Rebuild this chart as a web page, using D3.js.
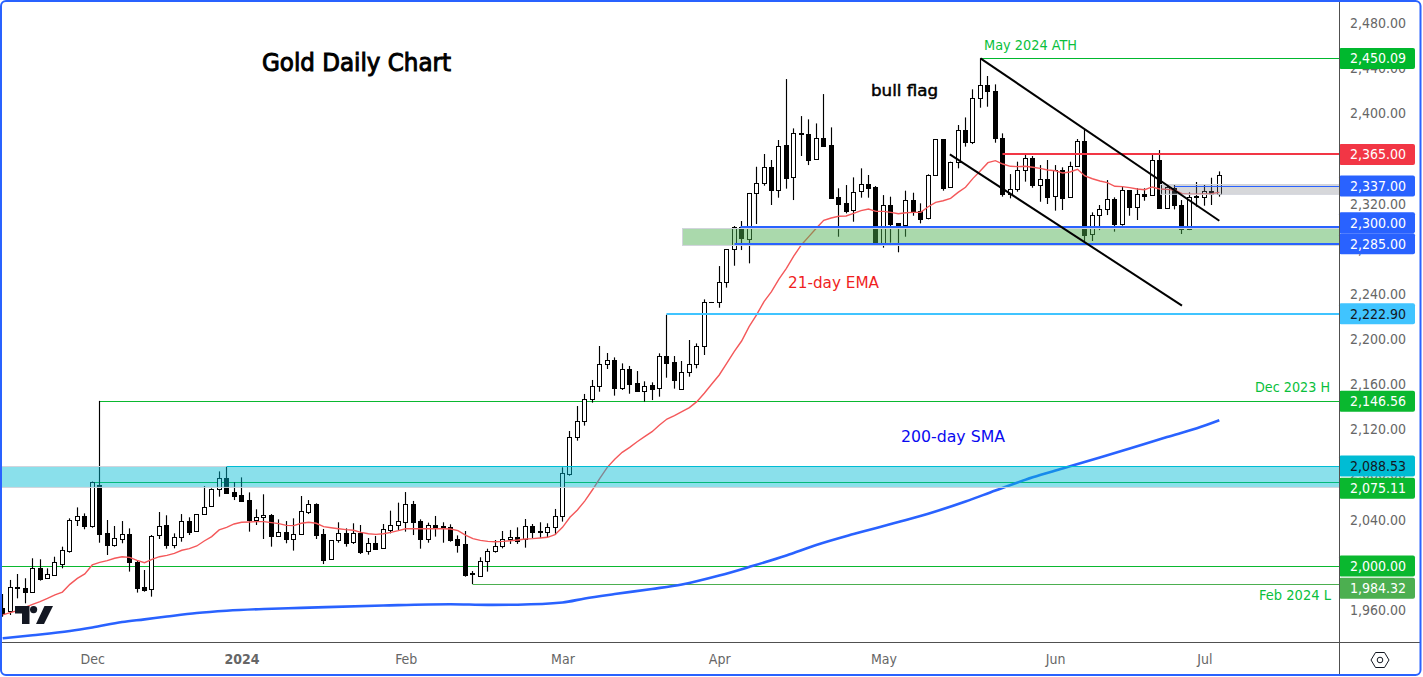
<!DOCTYPE html>
<html>
<head>
<meta charset="utf-8">
<title>Gold Daily Chart</title>
<script src="https://cdn.jsdelivr.net/npm/d3@7"></script>
<style>
html,body{margin:0;padding:0;background:#fff;overflow:hidden}
svg{display:block}
text{font-family:"DejaVu Sans",sans-serif;font-stretch:condensed}
</style>
</head>
<body>
<svg id="c" width="1423" height="677"></svg>
<script>
// ---------- data ----------
const opens = [1962.8,1960.7,1981.4,1980.5,1977.5,1998.2,1989.4,1992.6,2002,2013.9,2040.7,2044.3,2036,2072,2029.2,2019.2,2024.5,2028.3,2004.1,1981.4,1979.6,2027.4,2036.3,2019.2,2026.3,2039.9,2030.9,2046,2053.1,2068.2,2077.9,2065.5,2062.9,2058.5,2041.3,2043.4,2045.2,2027.1,2030.1,2023.9,2028.3,2048.4,2054.9,2028.3,2006.2,2023,2029.5,2021.2,2029.2,2013.3,2020.4,2015.9,2032.5,2036.3,2039.6,2054.9,2039.9,2024.5,2036.3,2035.7,2034.5,2023.9,2019.5,1993.8,1991.4,2004.4,2013.3,2017.7,2023.9,2025.7,2023.9,2035.4,2031,2030.1,2034.5,2044.3,2081.8,2114.3,2128.4,2147.9,2159.4,2178.9,2182.5,2158.3,2174.8,2162.1,2155.6,2160.3,2157.7,2186,2180.7,2156.8,2171.8,2178.9,2194.9,2233.9,2233.9,2251.6,2280.8,2300.3,2290.3,2330.4,2339.3,2353.5,2333.7,2372.9,2344.6,2383.3,2382.7,2360.5,2379.1,2372.9,2326.9,2321.6,2315.4,2332.2,2338.4,2335.7,2286.1,2319.8,2303.8,2302.1,2324.2,2314.5,2308.3,2346.4,2378.3,2335.7,2357.9,2386.2,2376.2,2414.6,2426.1,2420.8,2379.1,2329.5,2334,2350.8,2361.4,2338.1,2342.8,2327.8,2351.1,2326.9,2354.9,2376.8,2294.1,2310.9,2316.8,2325.1,2303.5,2333.1,2318.6,2329.5,2328.7,2359.7,2317.1,2335.4,2319.8,2298.5,2328.1,2326.9,2332.2,2329.8];
const highs = [1975.5,1987.9,1993.2,1989.4,2007.1,2006.2,1998.2,2008.5,2017.4,2042.5,2052.2,2046.9,2075.11,2146.56,2041,2035.7,2040.1,2033.6,2005.6,1996.7,2027.7,2048.1,2045.2,2029.2,2046.3,2043.4,2046.2,2071.1,2069.1,2084.1,2088.53,2074.7,2078.8,2065.5,2050.5,2063.8,2046.3,2041.6,2040.1,2042.5,2062.3,2058.7,2055.8,2033.1,2023.3,2039,2033.6,2038.1,2036.6,2025.1,2026.9,2037.5,2049.3,2056.4,2065.8,2057.9,2041.6,2038.7,2044.6,2039,2037.2,2027.4,2031.3,1995.8,2008,2015.6,2023.3,2031.3,2032.2,2034.5,2041.9,2037.5,2039,2038.1,2050.8,2087.7,2119.9,2142,2152.7,2165.1,2195.2,2189,2185.1,2179.8,2177.5,2173,2163.9,2163,2188.7,2222.9,2186.3,2181.9,2200.5,2197.5,2236.5,2234.2,2266,2281,2301.5,2305.9,2330.8,2354,2365.3,2360,2377.7,2431.7,2388,2398.9,2396,2392.4,2418.4,2388.9,2334.9,2337.8,2344.6,2352.6,2346.7,2336.9,2328.9,2327.5,2304.1,2332.8,2331,2321.6,2347.3,2378.6,2378.6,2358.5,2391,2397.7,2422.6,2450.09,2434.4,2427,2383.6,2347.5,2358.5,2364.4,2363.5,2355.5,2360,2355.5,2353.5,2358.5,2378.6,2387.1,2313.6,2320.1,2342.2,2326.9,2336.9,2333.4,2334.9,2334.9,2364.4,2368.8,2337.8,2337.8,2324.5,2331.3,2340.5,2338.7,2344.3,2349.9];
const lows = [1955.4,1956.9,1971.6,1967.2,1977,1987.3,1989,1992.3,1998.2,2012.1,2035.7,2032.8,2034.2,2020.9,2010,2017.4,2020.4,1995.3,1976.7,1977.5,1973.1,2024.2,2015.6,2015.9,2021.8,2027.7,2030.6,2045.7,2052.8,2061.7,2065,2058.7,2057.3,2030.7,2036.6,2024.2,2017.4,2026.3,2020.4,2013.9,2028,2046.3,2024.2,2002,2006,2020.9,2017.4,2019.8,2010.9,2010.3,2015.4,2015.6,2029.2,2032.2,2030.7,2027.7,2015.6,2020.9,2026.3,2020.9,2021.8,2012.1,1990.8,1984.32,1990.8,1995.3,2012.1,2015.9,2019.8,2019.8,2016.5,2025.1,2025.1,2025.7,2028,2039.6,2080.3,2111.3,2124.6,2145,2154.7,2174.8,2151.2,2156.2,2152.9,2155.3,2145.9,2147.3,2150.3,2167.1,2157.4,2156.5,2168,2175.4,2187.2,2233.6,2229.1,2246.9,2266.3,2280.2,2268.4,2303.3,2337.2,2320.1,2326.6,2334.6,2324.5,2363.5,2355.5,2360.2,2372.4,2326,2292,2312.7,2305.3,2326.6,2326.6,2286.1,2282.3,2286.7,2278.2,2292,2310.6,2303.8,2307.4,2345.8,2332.8,2335.4,2352.6,2371.8,2374.1,2406.3,2407.2,2375.3,2327.5,2326,2331.9,2340.8,2335.4,2323,2321,2315.1,2315.7,2326.5,2354.6,2286.1,2288.2,2297.9,2311.2,2296.5,2301.8,2310.6,2306.8,2323.9,2328.3,2316.8,2316.8,2316.2,2294.4,2297.9,2318.6,2319.5,2320.1,2327.5];
const closes = [1958.3,1981.4,1980.8,1977.5,1998.2,1989.1,1992.9,2003.5,2014.2,2040.7,2044.3,2036,2074.5,2028.9,2019.2,2024.8,2028.3,2004.1,1981.1,1979.3,2027.1,2036,2019.2,2026.3,2039.9,2030.7,2046,2052.8,2068.2,2077.9,2065.2,2062.6,2058.2,2041,2043.4,2045.2,2027.1,2030.1,2023.9,2028.3,2048.7,2054.9,2028,2005.9,2023,2029.2,2020.9,2029.2,2013,2020.4,2015.6,2032.8,2036.3,2039.9,2054.9,2039.6,2024.5,2036.3,2035.1,2035.1,2023.6,2019.2,1992.6,1993.2,2004.4,2013.3,2017.7,2023.9,2025.7,2022.4,2035.4,2030.7,2030.4,2034.5,2044.3,2082.4,2114.3,2128.4,2147.9,2159.4,2178.9,2182.5,2158.3,2174.5,2161.8,2155.6,2160,2157.4,2186,2180.4,2165.4,2171.8,2178.9,2194.9,2233.9,2234,2251.6,2280.8,2300.3,2290.6,2330.4,2339.3,2353.5,2333.7,2372.6,2344.3,2383.6,2383.9,2360.2,2379.1,2372.6,2326.6,2321.3,2315.1,2331.9,2338.4,2335.4,2286.7,2319.8,2303.5,2301.8,2324.2,2314.2,2308,2346.4,2378.3,2335.4,2357.9,2386.2,2376.2,2414.6,2426.1,2420.8,2379.1,2329.5,2334,2350.8,2361.4,2338.1,2342.8,2327.5,2351.1,2326.6,2354.9,2376.5,2293.5,2310.9,2316.8,2325.1,2303.5,2333.1,2318.6,2329.5,2328.4,2359.7,2317.1,2335.7,2319.8,2298.5,2327.5,2326.9,2332.2,2329.8,2346.4];
const ema21 = [1956.9,1958.9,1960.7,1963.7,1966.3,1968.7,1971.6,1974.6,1977.2,1984,1989.3,1993.2,2001.2,2003.5,2005,2007.1,2008.5,2007.9,2005.3,2003.2,2006.2,2008.5,2009.7,2011.5,2014.2,2015.6,2018,2022.4,2026.3,2032.2,2034.5,2037.5,2039,2039.3,2039.6,2039.6,2038.7,2037.8,2036.3,2036,2038.1,2039,2038.1,2035.1,2034.2,2033.3,2032.5,2031.9,2030.1,2028.9,2028.3,2028.9,2030.1,2031.6,2033.3,2033.3,2033.3,2033.3,2033.3,2033.3,2033,2031.6,2027.7,2024.5,2023,2022.1,2021.8,2022.1,2022.7,2023.3,2024.2,2024.5,2025.1,2025.7,2028,2034.5,2043.4,2049.9,2058,2067.6,2078,2087.7,2094.8,2101,2105.4,2110.4,2114.9,2119.3,2125.2,2130.5,2133.5,2137,2140.6,2145.9,2153.3,2161.5,2169.5,2179.8,2190.2,2199.6,2212.3,2222.7,2234.5,2243.3,2254.5,2264,2275,2284.7,2292.1,2299.5,2306.5,2308.6,2310.1,2310.4,2312.7,2315.1,2316.6,2314.5,2314.5,2313.6,2312.4,2313.3,2313.6,2313.6,2318.6,2322.5,2323.9,2326,2331.3,2335.8,2343.7,2350.5,2357.6,2359.4,2356.4,2354.4,2354.1,2354.4,2353.5,2352.6,2351.1,2350.5,2348.5,2349.4,2351.7,2345.8,2343.4,2341.4,2339.9,2336.7,2336.4,2335.5,2334.3,2333.7,2336.1,2334.3,2334,2333.4,2330.2,2329.6,2329.6,2329.9,2330.2,2331.3];
const smaBars = [0,4,9,12,16,19,22,26,30,35,40,51,60,65,69,75,78,82,87,91,96,100,105,109,114,120,124,129,133,138,142,147,151,156,160,163];
const sma200 = [1936.2,1938.9,1942.7,1945.8,1950.6,1953,1955.5,1958.6,1960.6,1962.2,1963.2,1965.3,1966.4,1965.8,1966,1967.9,1971.5,1975.4,1979.9,1983.9,1991.8,1999.4,2009.6,2018.9,2028.6,2039.2,2046.6,2057.4,2067.1,2078.8,2086.6,2096.4,2104.4,2114.6,2122.3,2129.4];

const priceTicks = [1960,2000,2040,2080,2120,2160,2200,2240,2280,2320,2360,2400,2440,2480];
const monthBars = [12,32,54,75,96,118,141,161];
const monthNames = ["Dec","2024","Feb","Mar","Apr","May","Jun","Jul"];

// horizontal levels: price, first bar
const levelPrices = [2450.09,2365,2337,2300,2285,2222.9,2146.56,2088.53,2075.11,2000,1984.32];
const levelStarts = [131,134,157,98.8,98,89,13,30,12,0,63];
const levelText   = ["2,450.09","2,365.00","2,337.00","2,300.00","2,285.00","2,222.90","2,146.56","2,088.53","2,075.11","2,000.00","1,984.32"];

// bull-flag channel lines: bar, price
const channelUpper = [[131,2450.09],[163,2306.2]];
const channelLower = [[126.9,2365],[158,2231]];

// ---------- styles ----------
const levelColors = ["#00b82e","#f23645","#2962ff","#2962ff","#2962ff","#40c4ff","#0ab82f","#00bcd4","#0ab82f","#0ab82f","#4caf50"];
const levelWidths = [1,2,1,2,2,2,1,1,1,1,1];
const levelBadge  = [58.5,154.5,186,222.7,243.7,313.7,401.3,466,488.3,566,588.3];
const levelInk    = ["#fff","#fff","#fff","#fff","#fff","#131722","#fff","#131722","#fff","#fff","#fff"];

const svg = d3.select("#c");
const plotR = 1339, plotB = 642;
const x = d3.scaleLinear().domain([0,163]).range([2.7,1219.3]);
const y = d3.scaleLinear().domain([2000,2450.09]).range([566.3,58.3]);
const px = v => Math.floor(v)+0.5;
const py = v => Math.round(y(v))+0.5;
const levelY = i => levelWidths[i]===1 ? py(levelPrices[i]) : Math.floor(y(levelPrices[i]));

svg.append("defs").append("clipPath").attr("id","plot").append("rect")
  .attr("x",2).attr("y",2).attr("width",plotR-2).attr("height",plotB-2);
const g = svg.append("g").attr("clip-path","url(#plot)");

// levels under candles
const underIdx = [0,6,8,9,10];
const overIdx  = [1,2,3,4,5,7];
function drawLevels(ids){
  g.selectAll(null).data(ids).join("line")
    .attr("x1",i=>levelStarts[i]===0?0:px(x(levelStarts[i])))
    .attr("x2",plotR)
    .attr("y1",levelY).attr("y2",levelY)
    .attr("stroke",i=>levelColors[i]).attr("stroke-width",i=>levelWidths[i]);
}
drawLevels(underIdx);

// candles
const bars = d3.range(opens.length);
const cg = g.append("g");
cg.selectAll("line").data(bars).join("line")
  .attr("x1",i=>px(x(i))).attr("x2",i=>px(x(i)))
  .attr("y1",i=>y(highs[i])).attr("y2",i=>y(lows[i]))
  .attr("stroke","#000").attr("stroke-width",1.15);
cg.selectAll("rect").data(bars).join("rect")
  .attr("x",i=>px(x(i))-2).attr("width",4)
  .attr("y",i=>py(Math.max(opens[i],closes[i])))
  .attr("height",i=>Math.max(0.01,py(Math.min(opens[i],closes[i]))-py(Math.max(opens[i],closes[i]))))
  .attr("fill",i=>closes[i]>opens[i]?"#fff":"#000")
  .attr("stroke","#000").attr("stroke-width",1);

// moving averages
const lineXY = d3.line().x(d=>x(d[0])).y(d=>y(d[1]));
g.append("path").attr("d",lineXY(ema21.map((v,i)=>[i,v])))
  .attr("fill","none").attr("stroke","#f4585a").attr("stroke-width",1.4);
g.append("path").attr("d",d3.line().x(d=>x(d[0])).y(d=>y(d[1])).curve(d3.curveMonotoneX)(smaBars.map((b,i)=>[b,sma200[i]])))
  .attr("fill","none").attr("stroke","#2962ff").attr("stroke-width",2.6);

// zones: [first bar, top price, bottom price, colour]
const zones = [
  [-1,2088.53,2070.0,"rgba(0,188,212,0.46)"],
  [91,2300,2285,"rgba(76,175,80,0.475)"],
  [155,2338.5,2329.8,"rgba(120,123,134,0.3)"]
];
g.selectAll(null).data(zones).join("rect")
  .attr("x",d=>Math.round(x(d[0]))+.5).attr("width",d=>plotR-Math.round(x(d[0])))
  .attr("y",d=>Math.round(y(d[1]))+.5).attr("height",d=>y(d[2])-y(d[1]))
  .attr("fill",d=>d[3]).attr("stroke","#d1d4dc").attr("stroke-width",1);

drawLevels(overIdx);

// channel
[channelUpper,channelLower].forEach(c=>{
  g.append("path").attr("d",lineXY(c)).attr("fill","none")
   .attr("stroke","#000").attr("stroke-width",2);
});

// TradingView mark
const logo = svg.append("g").attr("fill","#131722");
logo.append("path").attr("d","M15 606H29.5V624H22V613.5H15Z");
logo.append("circle").attr("cx",33.6).attr("cy",609.6).attr("r",3.6);
logo.append("path").attr("d","M44.5 606H53L44 624H36Z");

// annotation text: label, x, y, size, colour, anchor, fitted width, outline
const notes = [
  ["Gold Daily Chart",262,63,24,"#000","start",189,0.9],
  ["bull flag",871,90,16,"#000","start",67,0.45],
  ["May 2024 ATH",984,45,14,"#0abf3c","start",93,0],
  ["21-day EMA",788,283,15,"#f01f1f","start",91,0],
  ["200-day SMA",901,436,16,"#0a0af0","start",104,0],
  ["Dec 2023 H",1330,387,14,"#0abf3c","end",75,0],
  ["Feb 2024 L",1331,595,14,"#0abf3c","end",72,0]
];
svg.selectAll(null).data(notes).join("text")
  .attr("x",d=>d[1]).attr("y",d=>d[2]).attr("dy","0.35em")
  .attr("font-size",d=>d[3]).attr("fill",d=>d[4]).attr("text-anchor",d=>d[5])
  .attr("textLength",d=>d[6]).attr("lengthAdjust","spacingAndGlyphs")
  .attr("stroke",d=>d[4]).attr("stroke-width",d=>d[7])
  .text(d=>d[0]);

// price axis
const yAxis = d3.axisRight(y).tickValues(priceTicks).tickSize(0).tickPadding(11).tickFormat(d3.format(",.2f"));
const ya = svg.append("g").attr("transform",`translate(${plotR},-1.5)`).call(yAxis);
ya.select(".domain").remove();
ya.selectAll("text").attr("font-size",14).attr("fill","#666").attr("font-family",'"DejaVu Sans",sans-serif');

// level badges
const badges = svg.append("g");
badges.selectAll("rect").data(levelPrices).join("rect")
  .attr("x",plotR).attr("width",76).attr("height",21).attr("rx",2)
  .attr("y",(d,i)=>levelBadge[i]-10.5).attr("fill",(d,i)=>levelColors[i]);
badges.selectAll("text").data(levelPrices).join("text")
  .attr("x",plotR+11).attr("y",(d,i)=>levelBadge[i]).attr("dy","0.35em")
  .attr("font-size",14).attr("fill",(d,i)=>levelInk[i]).text((d,i)=>levelText[i]);

// time axis
const xAxis = d3.axisBottom(x).tickValues(monthBars).tickSize(0).tickPadding(12)
  .tickFormat((d,i)=>monthNames[i]);
const xa = svg.append("g").attr("transform",`translate(0,${plotB})`).call(xAxis);
xa.select(".domain").remove();
xa.selectAll("text").attr("font-size",14).attr("fill","#666")
  .attr("font-family",'"DejaVu Sans",sans-serif')
  .attr("font-weight",(d,i)=>monthNames[i]==="2024"?700:400);

// frame
svg.append("line").attr("x1",plotR+.5).attr("x2",plotR+.5).attr("y1",2).attr("y2",675).attr("stroke","#505050");
svg.append("line").attr("x1",2).attr("x2",1420).attr("y1",plotB+.5).attr("y2",plotB+.5).attr("stroke","#505050");
svg.append("rect").attr("x",1).attr("y",1).attr("width",1419.5).attr("height",674)
  .attr("rx",5).attr("fill","none").attr("stroke","#2962ff").attr("stroke-width",2);

// settings icon
svg.append("path").attr("d","M1371 660L1375.5 652.5H1384.5L1389 660L1384.5 667.5H1375.5Z")
  .attr("fill","none").attr("stroke","#131722").attr("stroke-width",1);
svg.append("circle").attr("cx",1380).attr("cy",660).attr("r",2.8)
  .attr("fill","none").attr("stroke","#131722").attr("stroke-width",1);
</script>
</body>
</html>
